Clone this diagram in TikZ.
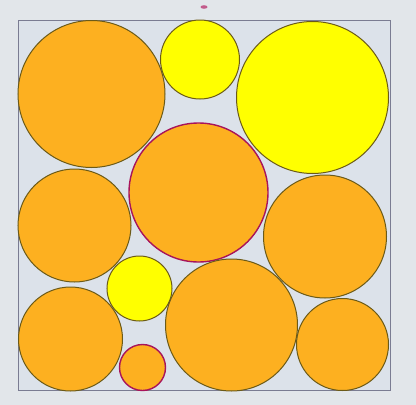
\documentclass[tikz,border=0pt]{standalone}
\begin{document}
\begin{tikzpicture}[x=1pt,y=-1pt,
  orangec/.style={circle, draw=olivedark, fill=orangefill, line width=1pt, inner sep=0pt},
  yellowc/.style={circle, draw=olivedark, fill=yellowfill, line width=1pt, inner sep=0pt},
  redrim/.style={circle, draw=rimred, fill=orangefill, line width=1.4pt, inner sep=0pt}]
\definecolor{olivedark}{HTML}{6B5A18}
\definecolor{orangefill}{HTML}{FDB020}
\definecolor{yellowfill}{HTML}{FFFF00}
\definecolor{rimred}{HTML}{A8145A}
\definecolor{bgout}{HTML}{E2E6EA}
\definecolor{bgin}{HTML}{DCE2EA}
\definecolor{framec}{HTML}{7A7C92}
\useasboundingbox (0,0) rectangle (416,405);
\fill[bgout] (0,0) rectangle (416,405);
\fill[bgin] (18,20) rectangle (390,390);
\draw[framec, line width=1pt] (18,20) rectangle (390,390);
\fill[rimred!70] (204,7) ellipse (3.5 and 1.8);
\node[orangec, minimum size=147] (c1) at (91.5,94) {};
\node[yellowc, minimum size=79] (c2) at (200,59.5) {};
\node[yellowc, minimum size=152] (c3) at (312.5,97.5) {};
\node[redrim, minimum size=139] (c4) at (198.5,192.5) {};
\node[orangec, minimum size=113] (c5) at (74.5,225.5) {};
\node[orangec, minimum size=123] (c6) at (325,236.5) {};
\node[yellowc, minimum size=65] (c7) at (139.5,288.5) {};
\node[orangec, minimum size=104] (c8) at (70.5,339) {};
\node[redrim, minimum size=46] (c9) at (142.5,367.5) {};
\node[orangec, minimum size=132] (c10) at (231.5,325) {};
\node[orangec, minimum size=92] (c11) at (342.5,344.5) {};
\end{tikzpicture}
\end{document}
